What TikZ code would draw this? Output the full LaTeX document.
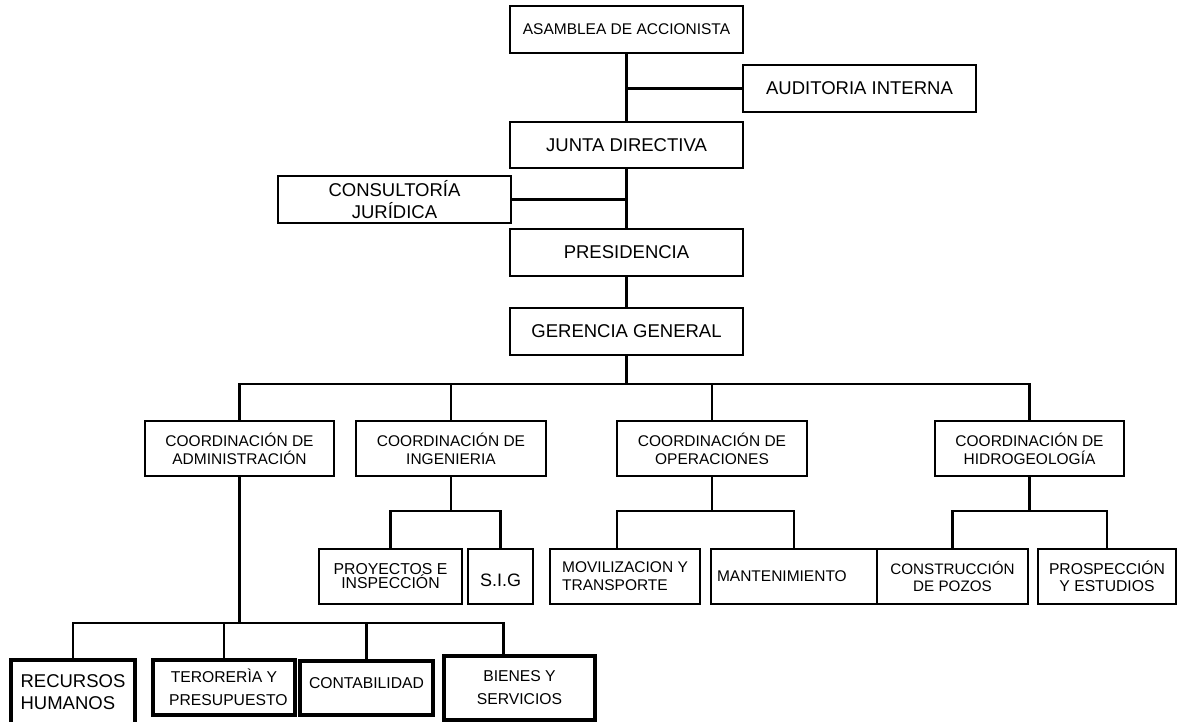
\documentclass[tikz,border=0pt]{standalone}
\usepackage{fontspec}
\setmainfont{Liberation Sans}
\usepackage{tikz}

\begin{document}
\begin{tikzpicture}[x=1pt,y=-1pt,line width=2.3pt]

\tikzset{unit/.style={draw, line width=2.6pt, inner sep=0pt, align=center},
	big/.style={font=\fontsize{18.5pt}{22pt}\selectfont},
	small/.style={font=\fontsize{15.5pt}{18pt}\selectfont},
	base/.style={unit, line width=3.5pt, font=\fontsize{15.7pt}{23pt}\selectfont}}

\useasboundingbox (0,0) rectangle (1178,721);

\node[unit, small, minimum width=233pt, minimum height=47pt] (asm) at (626.5,29.5) {ASAMBLEA DE ACCIONISTA};
\node[unit, big, minimum width=233pt, minimum height=47pt] (aud) at (859.5,88.5) {AUDITORIA INTERNA};
\node[unit, big, minimum width=233pt, minimum height=46pt] (jd) at (626.5,145) {JUNTA DIRECTIVA};
\node[unit, big, minimum width=233pt, minimum height=47pt] (cj) at (394.5,199.5) {CONSULTORÍA\\JURÍDICA};
\node[unit, big, minimum width=233pt, minimum height=47pt] (pres) at (626.5,252.5) {PRESIDENCIA};
\node[unit, big, minimum width=233pt, minimum height=47pt] (gg) at (626.5,331.5) {GERENCIA GENERAL};

\node[unit, small, minimum width=189pt, minimum height=55pt] (adm) at (239.5,448.5) {COORDINACIÓN DE\\ADMINISTRACIÓN};
\node[unit, small, minimum width=190pt, minimum height=55pt] (ing) at (451,448.5) {COORDINACIÓN DE\\INGENIERIA};
\node[unit, small, minimum width=190pt, minimum height=55pt] (ope) at (712,448.5) {COORDINACIÓN DE\\OPERACIONES};
\node[unit, small, minimum width=189pt, minimum height=55pt] (hid) at (1029.5,448.5) {COORDINACIÓN DE\\HIDROGEOLOGÍA};

\node[unit, font=\fontsize{15.8pt}{14pt}\selectfont, minimum width=143pt, minimum height=55pt] (pro) at (390.5,576.5) {PROYECTOS E\\INSPECCIÓN};
\node[unit, font=\fontsize{18pt}{20pt}\selectfont, text height=20pt, minimum width=65pt, minimum height=55pt] (sig) at (500.5,576.5) {S.I.G};
\node[unit, small, align=left, minimum width=150pt, minimum height=55pt] (mov) at (625,576.5) {MOVILIZACION Y\\TRANSPORTE};
\node[unit, small, align=left, text width=154pt, inner xsep=6pt, minimum height=55pt] (man) at (794,576.5) {MANTENIMIENTO};
\node[unit, font=\fontsize{15.2pt}{17pt}\selectfont, minimum width=151pt, minimum height=55pt] (con) at (952.5,576.5) {CONSTRUCCIÓN\\DE POZOS};
\node[unit, font=\fontsize{15.7pt}{17pt}\selectfont, minimum width=138pt, minimum height=55pt] (prs) at (1107,576.5) {PROSPECCIÓN\\Y ESTUDIOS};

\node[base, big, align=left, minimum width=124pt, minimum height=64pt] (rh) at (73,692) {RECURSOS\\HUMANOS};
\node[base, minimum width=142pt, minimum height=55pt] (tp) at (224,687.5) {TERORERÌA Y\\\ \ PRESUPUESTO};
\node[base, text depth=10pt, minimum width=133pt, minimum height=54pt] (cb) at (366.5,688) {CONTABILIDAD};
\node[base, minimum width=151pt, minimum height=64pt] (bs) at (519.5,688) {BIENES Y\\SERVICIOS};

\draw (asm.south) -- (jd.north);
\draw (jd.south) -- (pres.north);
\draw (pres.south) -- (gg.north);
\draw (aud.west) -- (aud.west -| asm.south);
\draw (cj.east) -- (cj.east -| jd.south);

\draw (gg.south) -- ++(0,28) coordinate (bus);
\foreach \c in {adm,ing,ope,hid}
	\draw (bus) -| (\c.north);

\draw (ing.south) -- ++(0,34) coordinate (ingbus);
\foreach \c in {pro,sig}
	\draw (ingbus) -| (\c.north);

\draw (ope.south) -- ++(0,34) coordinate (opebus);
\draw (opebus) -| ([xshift=-8pt]mov.north);
\draw (opebus) -| (man.north);

\draw (hid.south) -- ++(0,34) coordinate (hidbus);
\foreach \c in {con,prs}
	\draw (hidbus) -| (\c.north);

\draw (adm.south) -- ++(0,146) coordinate (admbus);
\foreach \c in {rh,tp,cb}
	\draw (admbus) -| (\c.north);
\draw (admbus) -| ([xshift=-16pt]bs.north);

\end{tikzpicture}
\end{document}
